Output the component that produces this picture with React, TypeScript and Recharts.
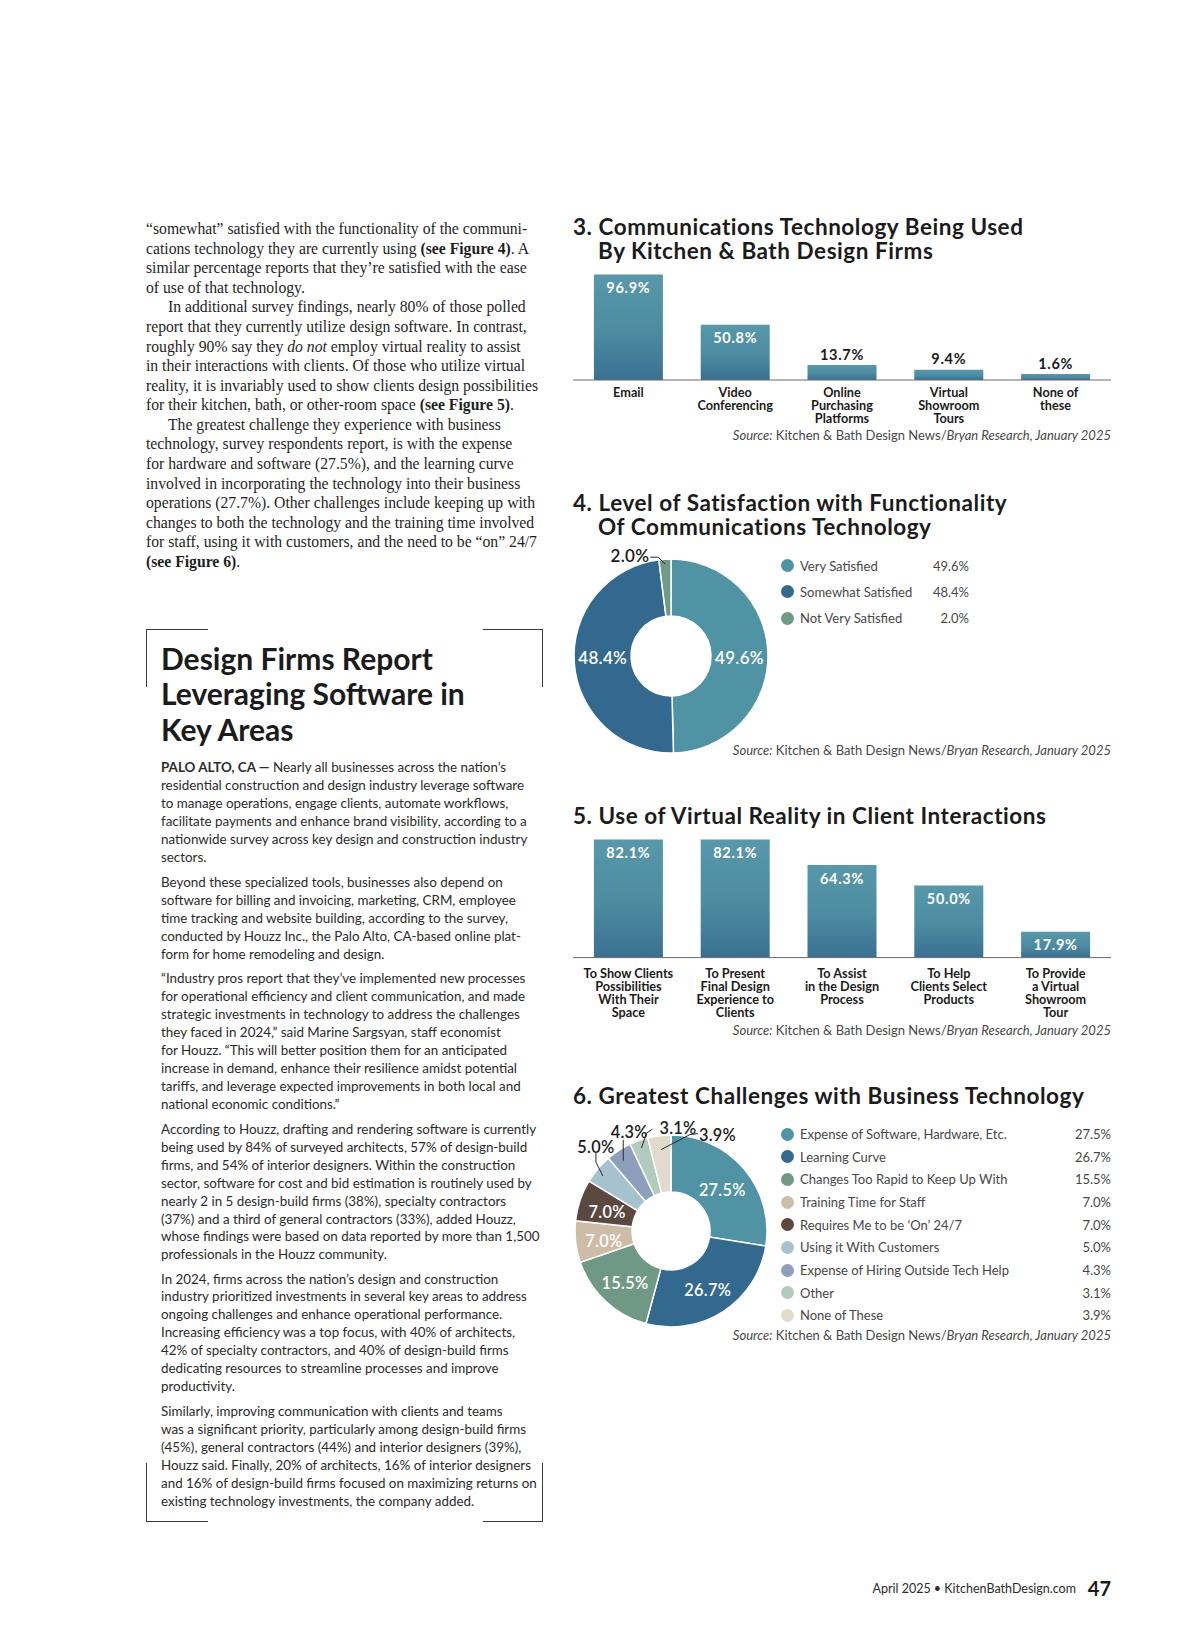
import React from "react";
import { BarChart, Bar, XAxis, YAxis, LabelList, PieChart, Pie, Cell } from "recharts";

// Figure 3
const commsCategories = ["Email", "Video\nConferencing", "Online\nPurchasing\nPlatforms", "Virtual\nShowroom\nTours", "None of\nthese"];
const commsValues = [96.9, 50.8, 13.7, 9.4, 1.6];

// Figure 4
const satisfactionNames = ["Very Satisfied", "Somewhat Satisfied", "Not Very Satisfied"];
const satisfactionValues = [49.6, 48.4, 2.0];

// Figure 5
const vrCategories = [
  "To Show Clients\nPossibilities\nWith Their\nSpace",
  "To Present\nFinal Design\nExperience to\nClients",
  "To Assist\nin the Design\nProcess",
  "To Help\nClients Select\nProducts",
  "To Provide\na Virtual\nShowroom\nTour",
];
const vrValues = [82.1, 82.1, 64.3, 50.0, 17.9];

// Figure 6
const challengeNames = [
  "Expense of Software, Hardware, Etc.",
  "Learning Curve",
  "Changes Too Rapid to Keep Up With",
  "Training Time for Staff",
  "Requires Me to be \u2018On\u2019 24/7",
  "Using it With Customers",
  "Expense of Hiring Outside Tech Help",
  "Other",
  "None of These",
];
const challengeValues = [27.5, 26.7, 15.5, 7.0, 7.0, 5.0, 4.3, 3.1, 3.9];

const SATISFACTION_COLORS = ["#5093a5", "#33698e", "#6f9a87"];
const CHALLENGE_COLORS = ["#5093a5", "#33698e", "#6f9985", "#cdbca6", "#5a4841", "#a6c2cf", "#8d9fbd", "#b2cbbe", "#e2dbcd"];

const SANS = "Lato, 'Open Sans', sans-serif";
const SERIF = "'Liberation Serif', 'DejaVu Serif', serif";
const INK = "#1b1b1b";
const GREY = "#474747";
const RADIAN = Math.PI / 180;

const commsData = commsCategories.map((name, i) => ({ name, value: commsValues[i] }));
const vrData = vrCategories.map((name, i) => ({ name, value: vrValues[i] }));
const satisfactionData = satisfactionNames.map((name, i) => ({ name, value: satisfactionValues[i] }));
const challengeData = challengeNames.map((name, i) => ({ name, value: challengeValues[i] }));

const pct = (v: number) => `${Number(v).toFixed(1)}%`;

// leader-line callouts for the thin slices (offsets from the point on the slice)
const satisfactionCallouts: Record<string, any> = {
  "Not Very Satisfied": { r: 92, pts: [[0, 0], [-7, -7], [-15, -7]], tx: -16, ty: -8.5, anchor: "end" },
};
const challengeCallouts: Record<string, any> = {
  "Using it With Customers": { r: 88, pts: [[-1, 2], [-8, -12], [-8, -21]], tx: -8, ty: -28, anchor: "middle" },
  "Expense of Hiring Outside Tech Help": { r: 86, pts: [[-1, 2], [-1, -19]], tx: 5, ty: -27, anchor: "middle" },
  Other: { r: 88, pts: [[0, 0], [5, -15], [11, -19]], tx: 18, ty: -21, anchor: "start" },
  "None of These": { r: 82, pts: [[0, 0], [29, -15], [37, -16]], tx: 38, ty: -15.5, anchor: "start" },
};

function CategoryTick(props: any) {
  const { x, y, payload, firstLine } = props;
  const lines = String(payload.value).split("\n");
  return (
    <g>
      {lines.map((line, i) => (
        <text key={i} x={x} y={y + firstLine + i * 13} textAnchor="middle" dominantBaseline="central"
          fontFamily={SANS} fontWeight={700} fontSize={12.7} fill={INK}>
          {line}
        </text>
      ))}
    </g>
  );
}

const valueText = (x: number, y: number, value: number, fill: string) => (
  <text x={x} y={y} textAnchor="middle" dominantBaseline="central" fontFamily={SANS} fontWeight={700}
    fontSize={14.5} letterSpacing={0.7} fill={fill}>
    {pct(value)}
  </text>
);

const commsLabel = (props: any) => {
  const { x, y, width, value } = props;
  const inside = Number(value) > 30;
  return valueText(Number(x) + Number(width) / 2, inside ? Number(y) + 13 : Number(y) - 11, value, inside ? "#ffffff" : INK);
};

const vrLabel = (props: any) => {
  const { x, y, width, value } = props;
  return valueText(Number(x) + Number(width) / 2, Number(y) + 13, value, "#ffffff");
};

function makePieLabel(callouts: Record<string, any>, fontSize: number, level: boolean) {
  return (props: any) => {
    const { cx, cy, midAngle, innerRadius, outerRadius, value, name } = props;
    const cos = Math.cos(-midAngle * RADIAN);
    const sin = Math.sin(-midAngle * RADIAN);
    const c = callouts[name];
    if (c) {
      const ax = cx + c.r * cos;
      const ay = cy + c.r * sin;
      const d = c.pts.map((p: number[], i: number) => `${i ? "L" : "M"}${ax + p[0]},${ay + p[1]}`).join(" ");
      return (
        <g>
          <path d={d} fill="none" stroke="#2a2a2a" strokeWidth={1} />
          <text x={ax + c.tx} y={ay + c.ty} textAnchor={c.anchor} dominantBaseline="central" fontFamily={SANS}
            fontWeight={600} fontSize={fontSize} letterSpacing={0.3} fill={INK}>
            {pct(value)}
          </text>
        </g>
      );
    }
    const r = (innerRadius + outerRadius) / 2;
    return (
      <text x={cx + r * cos} y={level ? cy + 1 : cy + r * sin + 2} textAnchor="middle" dominantBaseline="central"
        fontFamily={SANS} fontWeight={600} fontSize={fontSize} letterSpacing={0.3} fill="#ffffff">
        {pct(value)}
      </text>
    );
  };
}

function BarGradient({ id }: { id: string }) {
  return (
    <defs>
      <linearGradient id={id} x1="0" y1="0" x2="0" y2="1">
        <stop offset="0%" stopColor="#5898aa" />
        <stop offset="55%" stopColor="#4c8ba1" />
        <stop offset="100%" stopColor="#3a7092" />
      </linearGradient>
    </defs>
  );
}

function Title({ top, lines }: { top: number; lines: string[] }) {
  return (
    <div style={{ position: "absolute", left: 573, top, fontFamily: SANS, fontWeight: 700, fontSize: 22.5, letterSpacing: 0.55, lineHeight: "24.5px", color: INK, whiteSpace: "nowrap" }}>
      {lines.map((l, i) => (
        <div key={i} style={{ paddingLeft: i ? 25 : 0 }}>{l}</div>
      ))}
    </div>
  );
}

function Source({ centerY }: { centerY: number }) {
  return (
    <div style={{ position: "absolute", left: 611, width: 500, top: centerY - 9, lineHeight: "18px", textAlign: "right", fontFamily: SANS, fontSize: 13, color: GREY, whiteSpace: "nowrap" }}>
      <i>Source:</i> Kitchen &amp; Bath Design News/<i>Bryan Research, January 2025</i>
    </div>
  );
}

function LegendRows({ names, values, colors, top, step, right }: { names: string[]; values: number[]; colors: string[]; top: number; step: number; right: number }) {
  return (
    <>
      {names.map((n, i) => (
        <div key={n} style={{ position: "absolute", left: 780, width: right - 780, top: top + i * step - 9, height: 18, fontFamily: SANS, fontSize: 13, lineHeight: "18px", color: GREY }}>
          <span style={{ position: "absolute", left: 1, top: 2.5, width: 13, height: 13, borderRadius: "50%", background: colors[i] }} />
          <span style={{ position: "absolute", left: 20, whiteSpace: "nowrap" }}>{n}</span>
          <span style={{ position: "absolute", right: 0 }}>{pct(values[i])}</span>
        </div>
      ))}
    </>
  );
}

const serifLines: React.ReactNode[] = [
  <>“somewhat” satisfied with the functionality of the communi-</>,
  <>cations technology they are currently using <b>(see Figure 4)</b>. A</>,
  <>similar percentage reports that they’re satisfied with the ease</>,
  <>of use of that technology.</>,
  <>In additional survey findings, nearly 80% of those polled</>,
  <>report that they currently utilize design software. In contrast,</>,
  <>roughly 90% say they <i>do not</i> employ virtual reality to assist</>,
  <>in their interactions with clients. Of those who utilize virtual</>,
  <>reality, it is invariably used to show clients design possibilities</>,
  <>for their kitchen, bath, or other-room space <b>(see Figure 5)</b>.</>,
  <>The greatest challenge they experience with business</>,
  <>technology, survey respondents report, is with the expense</>,
  <>for hardware and software (27.5%), and the learning curve</>,
  <>involved in incorporating the technology into their business</>,
  <>operations (27.7%). Other challenges include keeping up with</>,
  <>changes to both the technology and the training time involved</>,
  <>for staff, using it with customers, and the need to be “on” 24/7</>,
  <><b>(see Figure 6)</b>.</>,
];
const serifIndents = [4, 10];

const bodyParas: { top: number; lines: React.ReactNode[] }[] = [
  {
    top: 768.3,
    lines: [
      <><b>PALO ALTO, CA —</b> Nearly all businesses across the nation’s</>,
      <>residential construction and design industry leverage software</>,
      <>to manage operations, engage clients, automate workflows,</>,
      <>facilitate payments and enhance brand visibility, according to a</>,
      <>nationwide survey across key design and construction industry</>,
      <>sectors.</>,
    ],
  },
  {
    top: 883.3,
    lines: [
      <>Beyond these specialized tools, businesses also depend on</>,
      <>software for billing and invoicing, marketing, CRM, employee</>,
      <>time tracking and website building, according to the survey,</>,
      <>conducted by Houzz Inc., the Palo Alto, CA-based online plat-</>,
      <>form for home remodeling and design.</>,
    ],
  },
  {
    top: 979.4,
    lines: [
      <>“Industry pros report that they’ve implemented new processes</>,
      <>for operational efficiency and client communication, and made</>,
      <>strategic investments in technology to address the challenges</>,
      <>they faced in 2024,” said Marine Sargsyan, staff economist</>,
      <>for Houzz. “This will better position them for an anticipated</>,
      <>increase in demand, enhance their resilience amidst potential</>,
      <>tariffs, and leverage expected improvements in both local and</>,
      <>national economic conditions.”</>,
    ],
  },
  {
    top: 1130,
    lines: [
      <>According to Houzz, drafting and rendering software is currently</>,
      <>being used by 84% of surveyed architects, 57% of design-build</>,
      <>firms, and 54% of interior designers. Within the construction</>,
      <>sector, software for cost and bid estimation is routinely used by</>,
      <>nearly 2 in 5 design-build firms (38%), specialty contractors</>,
      <>(37%) and a third of general contractors (33%), added Houzz,</>,
      <>whose findings were based on data reported by more than 1,500</>,
      <>professionals in the Houzz community.</>,
    ],
  },
  {
    top: 1279.5,
    lines: [
      <>In 2024, firms across the nation’s design and construction</>,
      <>industry prioritized investments in several key areas to address</>,
      <>ongoing challenges and enhance operational performance.</>,
      <>Increasing efficiency was a top focus, with 40% of architects,</>,
      <>42% of specialty contractors, and 40% of design-build firms</>,
      <>dedicating resources to streamline processes and improve</>,
      <>productivity.</>,
    ],
  },
  {
    top: 1412.2,
    lines: [
      <>Similarly, improving communication with clients and teams</>,
      <>was a significant priority, particularly among design-build firms</>,
      <>(45%), general contractors (44%) and interior designers (39%),</>,
      <>Houzz said. Finally, 20% of architects, 16% of interior designers</>,
      <>and 16% of design-build firms focused on maximizing returns on</>,
      <>existing technology investments, the company added.</>,
    ],
  },
];

const rule = (left: number, top: number, width: number, height: number) => (
  <div style={{ position: "absolute", left, top, width, height, background: "#3a3a3a" }} />
);

export default function App() {
  return (
    <div style={{ position: "absolute", left: 0, top: 0, width: 1200, height: 1639, background: "#ffffff", overflow: "hidden" }}>
      {/* left column, serif */}
      <div style={{ position: "absolute", left: 146, top: 219.2, fontFamily: SERIF, fontSize: 15.7, lineHeight: "19.56px", color: "#1f1f1f" }}>
        {serifLines.map((l, i) => (
          <div key={i} style={{ whiteSpace: "nowrap", paddingLeft: serifIndents.includes(i) ? 22 : 0 }}>{l}</div>
        ))}
      </div>

      {/* sidebar brackets */}
      {rule(146, 628.5, 62, 1.2)}
      {rule(146, 628.5, 1.2, 58)}
      {rule(483, 628.5, 60, 1.2)}
      {rule(542, 628.5, 1.2, 58)}
      {rule(146, 1463, 1.2, 58)}
      {rule(146, 1520.5, 62, 1.2)}
      {rule(542, 1463, 1.2, 58)}
      {rule(483, 1520.5, 60, 1.2)}

      <div style={{ position: "absolute", left: 161, top: 640.8, fontFamily: SANS, fontWeight: 700, fontSize: 30, lineHeight: "35.5px", color: INK, whiteSpace: "nowrap" }}>
        <div>Design Firms Report</div>
        <div>Leveraging Software in</div>
        <div>Key Areas</div>
      </div>

      {bodyParas.map((p, k) => (
        <div key={k} style={{ position: "absolute", left: 161, top: p.top - 8.95, fontFamily: SANS, fontSize: 13.4, lineHeight: "17.9px", color: "#2b2b2b" }}>
          {p.lines.map((l, i) => (
            <div key={i} style={{ whiteSpace: "nowrap" }}>{l}</div>
          ))}
        </div>
      ))}

      {/* Figure 3 */}
      <Title top={214.8} lines={["3. Communications Technology Being Used", "By Kitchen & Bath Design Firms"]} />
      <div style={{ position: "absolute", left: 573, top: 260.5 }}>
        <BarChart width={538} height={179} data={commsData} margin={{ top: 10, right: 0, bottom: 0, left: 0 }} barCategoryGap="17.7%">
          <BarGradient id="commsFill" />
          <YAxis hide domain={[0, 100]} />
          <XAxis dataKey="name" height={60} interval={0} tickLine={false} tickSize={0} tickMargin={0}
            axisLine={{ stroke: "#6a6a6a", strokeWidth: 1 }} padding={{ left: 2, right: 2 }}
            tick={<CategoryTick firstLine={12} />} />
          <Bar dataKey="value" fill="url(#commsFill)" minPointSize={6} isAnimationActive={false}>
            <LabelList dataKey="value" content={commsLabel} />
          </Bar>
        </BarChart>
      </div>
      <Source centerY={435} />

      {/* Figure 4 */}
      <Title top={490.8} lines={["4. Level of Satisfaction with Functionality", "Of Communications Technology"]} />
      <div style={{ position: "absolute", left: 541, top: 525.5 }}>
        <PieChart width={260} height={260} margin={{ top: 0, right: 0, bottom: 0, left: 0 }}>
          <Pie data={satisfactionData} dataKey="value" nameKey="name" cx={130} cy={130} innerRadius={40} outerRadius={97}
            startAngle={90} endAngle={-270} stroke="#ffffff" strokeWidth={1.5} isAnimationActive={false}
            label={makePieLabel(satisfactionCallouts, 17, true)} labelLine={false}>
            {satisfactionData.map((d, i) => (
              <Cell key={d.name} fill={SATISFACTION_COLORS[i]} />
            ))}
          </Pie>
        </PieChart>
      </div>
      <LegendRows names={satisfactionNames} values={satisfactionValues} colors={SATISFACTION_COLORS} top={565.8} step={26.1} right={969} />
      <Source centerY={749.5} />

      {/* Figure 5 */}
      <Title top={804.3} lines={["5. Use of Virtual Reality in Client Interactions"]} />
      <div style={{ position: "absolute", left: 573, top: 817.9 }}>
        <BarChart width={538} height={210} data={vrData} margin={{ top: 10, right: 0, bottom: 0, left: 0 }} barCategoryGap="17.7%">
          <BarGradient id="vrFill" />
          <YAxis hide domain={[0, 90]} />
          <XAxis dataKey="name" height={70.4} interval={0} tickLine={false} tickSize={0} tickMargin={0}
            axisLine={{ stroke: "#6a6a6a", strokeWidth: 1 }} padding={{ left: 2, right: 2 }}
            tick={<CategoryTick firstLine={15.5} />} />
          <Bar dataKey="value" fill="url(#vrFill)" isAnimationActive={false}>
            <LabelList dataKey="value" content={vrLabel} />
          </Bar>
        </BarChart>
      </div>
      <Source centerY={1030} />

      {/* Figure 6 */}
      <Title top={1084.3} lines={["6. Greatest Challenges with Business Technology"]} />
      <div style={{ position: "absolute", left: 541, top: 1101 }}>
        <PieChart width={260} height={260} margin={{ top: 0, right: 0, bottom: 0, left: 0 }}>
          <Pie data={challengeData} dataKey="value" nameKey="name" cx={130} cy={130} innerRadius={39} outerRadius={96}
            startAngle={90} endAngle={-270} stroke="#ffffff" strokeWidth={1.5} isAnimationActive={false}
            label={makePieLabel(challengeCallouts, 16.3, false)} labelLine={false}>
            {challengeData.map((d, i) => (
              <Cell key={d.name} fill={CHALLENGE_COLORS[i]} />
            ))}
          </Pie>
        </PieChart>
      </div>
      <LegendRows names={challengeNames} values={challengeValues} colors={CHALLENGE_COLORS} top={1134} step={22.68} right={1111} />
      <Source centerY={1335} />

      {/* folio */}
      <div style={{ position: "absolute", left: 700, width: 376, top: 1580, lineHeight: "18px", textAlign: "right", fontFamily: SANS, fontSize: 12.5, color: "#2b2b2b", whiteSpace: "nowrap" }}>
        April 2025 • KitchenBathDesign.com
      </div>
      <div style={{ position: "absolute", left: 1060, width: 51, top: 1577, lineHeight: "22px", textAlign: "right", fontFamily: SANS, fontSize: 20, fontWeight: 700, color: INK }}>
        47
      </div>
    </div>
  );
}
